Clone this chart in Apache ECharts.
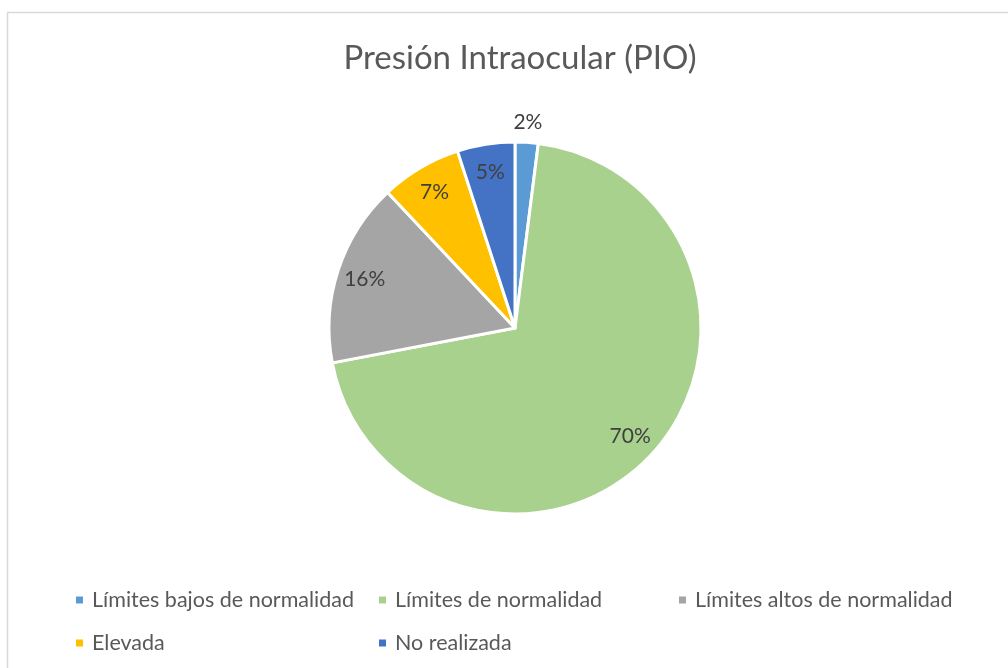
<!DOCTYPE html>
<html>
<head>
<meta charset="utf-8">
<script src="https://cdn.jsdelivr.net/npm/echarts@6/dist/echarts.min.js"></script>
<style>
  html, body { margin: 0; padding: 0; background: #ffffff; }
  #chart { width: 1008px; height: 668px; }
</style>
</head>
<body>
<div id="chart"></div>
<script>
// Categories and their shares (%)
const categories = [
  'Límites bajos de normalidad',
  'Límites de normalidad',
  'Límites altos de normalidad',
  'Elevada',
  'No realizada'
];
const shares = [2, 70, 16, 7, 5];
const colors = ['#5B9BD5', '#A9D18E', '#A5A5A5', '#FFC000', '#4472C4'];
// Label placement: true = outside the slice
const outsideLabel = [true, false, false, false, false];

// Legend grid: [left, top] of each entry
const legendSlots = [[74, 589], [377, 589], [677, 589], [74, 632], [377, 632]];

const FONT = 'Lato, "Open Sans", sans-serif';
const center = [515, 328];
const R = 186;

const chart = echarts.init(document.getElementById('chart'), null, { renderer: 'canvas' });

const pieData = categories.map((name, i) => ({
  name: name,
  value: shares[i],
  itemStyle: { color: colors[i] }
}));

const labelText = p => p.value + '%';

const legends = categories.map((name, i) => ({
  left: legendSlots[i][0],
  top: legendSlots[i][1],
  padding: 0,
  orient: 'horizontal',
  data: [name],
  icon: 'rect',
  itemWidth: 9,
  itemHeight: 9,
  itemGap: 0,
  selectedMode: false,
  textStyle: { fontFamily: FONT, fontSize: 21.5, color: '#595959', padding: [0, 0, 0, 3] }
}));

const option = {
  backgroundColor: '#ffffff',
  animation: false,
  title: {
    text: 'Presión Intraocular (PIO)',
    left: center[0],
    textAlign: 'center',
    top: 37,
    textStyle: { fontFamily: FONT, fontSize: 33, fontWeight: 'normal', color: '#595959' }
  },
  legend: legends,
  graphic: [{
    type: 'rect',
    shape: { x: 7.5, y: 12.5, width: 1020, height: 700 },
    style: { fill: 'none', stroke: '#D9D9D9', lineWidth: 1.5 },
    silent: true,
    z: -1
  }],
  series: [
    {
      // slices
      type: 'pie',
      center: center,
      radius: [0, R],
      startAngle: 90,
      clockwise: true,
      data: pieData,
      itemStyle: { borderColor: '#ffffff', borderWidth: 3 },
      label: { show: false },
      labelLine: { show: false },
      emphasis: { disabled: true }
    },
    {
      // inner value labels
      type: 'pie',
      center: center,
      radius: [124, R],
      startAngle: 90,
      clockwise: true,
      silent: true,
      legendHoverLink: false,
      data: categories.map((name, i) => ({
        name: name,
        value: shares[i],
        itemStyle: { color: 'transparent' },
        label: { show: !outsideLabel[i] }
      })),
      label: {
        position: 'inside',
        formatter: labelText,
        fontFamily: FONT, fontSize: 21, color: '#404040'
      },
      labelLine: { show: false },
      emphasis: { disabled: true }
    },
    {
      // outer value labels
      type: 'pie',
      center: center,
      radius: [R, 220],
      startAngle: 90,
      clockwise: true,
      silent: true,
      legendHoverLink: false,
      data: categories.map((name, i) => ({
        name: name,
        value: shares[i],
        itemStyle: { color: 'transparent' },
        label: { show: outsideLabel[i] }
      })),
      label: {
        position: 'inside',
        formatter: labelText,
        fontFamily: FONT, fontSize: 21, color: '#404040'
      },
      labelLine: { show: false },
      emphasis: { disabled: true }
    }
  ]
};

chart.setOption(option);
</script>
</body>
</html>
